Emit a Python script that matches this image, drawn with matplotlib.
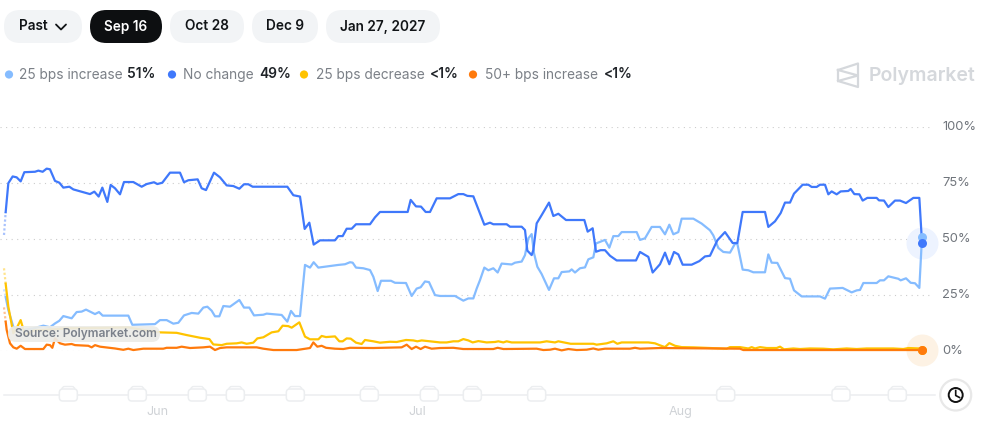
import matplotlib
matplotlib.use("Agg")
import matplotlib.pyplot as plt
from matplotlib.patches import FancyBboxPatch, Circle

plt.rcParams['font.family'] = ['Inter', 'DejaVu Sans']

# time step index (one step is roughly three hours); value = chance in %
NO_CHANGE = [(12,51.8),(17,62),(25,75),(38,78),(50,77.6),(62,75.8),(73,79.9),(105,80.1),(115,80.6),(128,80.1),(140,81.5),(150,81.2),
 (165,76),(178,75.2),(190,73),(208,73.4),(220,72.2),(270,70.1),(283,71.2),(296,69),(307,73),(322,66.6),(332,74.2),(345,72.7),
 (360,70),(372,75.5),(400,75.5),(425,73.4),(440,74.6),(462,75.4),(472,74.6),(487,75.2),(510,79.7),(540,79.7),(552,75.4),
 (565,76.3),(593,76.7),(605,72.7),(618,71.9),(642,79.7),(660,77.6),(680,74),(700,73.7),(718,72.5),(732,74.5),(745,74.5),
 (758,73.4),(862,73.4),(880,69.6),(900,69),(914,54.5),(928,57.3),(941,47.5),(960,49.4),(1005,49.4),(1015,51.3),(1028,51.3),
 (1040,54.6),(1055,54.6),(1068,56.6),(1110,56.6),(1125,59.7),(1140,62.1),(1223,62.1),(1232,67.5),(1248,64.6),(1263,64.5),
 (1277,62.1),(1290,62.1),(1310,68.2),(1350,68.2),(1375,70.1),(1390,70.1),(1402,69.3),(1420,69.1),(1453,56.4),(1470,57.3),
 (1480,56.6),(1520,56.6),(1530,55.5),(1565,55.5),(1575,54),(1582,44.8),(1595,42.8),(1600,45),(1610,57),(1625,60.7),(1647,66.3),
 (1660,60.3),(1675,61.3),(1698,58.5),(1753,58.5),(1763,53.3),(1778,54.8),(1788,44.3),(1802,45),(1815,45),(1830,42.5),(1850,40.4),
 (1908,40.4),(1920,44.2),(1945,42),(1958,35),(1980,38.7),(1995,43.9),(2008,38.7),(2022,44.2),(2035,43.1),(2048,38.5),(2075,38.5),
 (2098,40.1),(2115,42.2),(2130,42.5),(2152,49.4),(2175,53.1),(2198,48.2),(2212,48.2),(2228,62.1),(2295,62.1),(2305,55.4),
 (2325,57.9),(2342,61.6),(2355,66.3),(2370,66.3),(2382,70.3),(2408,74.3),(2425,74.3),(2435,73.3),(2450,73.3),(2460,74.3),
 (2475,74.3),(2485,70),(2495,71.3),(2510,70),(2522,71.3),(2545,71.5),(2552,72.4),(2563,70.1),(2578,70),(2588,67.2),(2602,68.4),
 (2630,68.4),(2637,67.3),(2652,67.2),(2665,64.3),(2685,67.2),(2700,67.2),(2718,66.1),(2740,68.4),(2758,68.4),(2766,48.4)]

INCREASE_25 = [(12,27.5),(17,24),(25,18.2),(40,10.7),(60,9),(100,10),(130,11.2),(150,10.5),(165,12.2),(178,13.4),(190,15.5),(215,14.5),
 (230,17.3),(245,17.5),(258,18.4),(285,16.4),(297,17.3),(308,15.7),(385,15.7),(397,11.6),(465,11.9),(480,13.7),(500,13.7),
 (520,12.1),(535,12.5),(552,15.8),(575,16.9),(595,16.6),(610,19.3),(622,19.7),(635,17.9),(645,15.4),(658,15.4),(670,20),
 (690,19.7),(718,22.7),(732,19.3),(748,19.3),(762,15.8),(790,16.1),(800,16.6),(845,16),(862,13),(873,17.8),(885,15.5),(900,15.5),
 (915,38.4),(930,37.2),(941,39.6),(955,37.2),(1015,38.4),(1035,38.7),(1050,39.6),(1058,39.4),(1068,37.2),(1090,36.9),(1110,36.1),
 (1120,33.1),(1133,26.7),(1143,31.3),(1173,31.3),(1185,30.4),(1218,30.3),(1235,24.5),(1250,27.8),(1262,28.4),(1275,31),(1287,30.7),
 (1305,24.9),(1320,24.5),(1365,24.5),(1390,22.4),(1405,23.4),(1420,23.4),(1430,27.8),(1440,31.6),(1453,37.2),(1465,36),(1480,36.9),
 (1493,35),(1505,39),(1535,38.6),(1545,39.4),(1565,39.9),(1575,42.8),(1585,50.3),(1595,52.2),(1602,43.6),(1612,37.6),(1625,34.3),
 (1647,27.2),(1662,32.4),(1675,32.4),(1685,35.2),(1708,35.5),(1715,36.4),(1725,35),(1740,36.9),(1755,37.3),(1765,40.9),(1780,41.8),
 (1788,48),(1815,49.6),(1828,46.1),(1840,51.3),(1855,51.3),(1865,53.1),(1910,53.1),(1920,49.6),(1935,50.3),(1955,55.4),(1980,55.4),
 (1995,52.1),(2008,56.4),(2020,52.1),(2035,53.1),(2045,59.1),(2080,59.1),(2105,56.9),(2130,53.9),(2140,51.6),(2155,46),(2170,44.2),
 (2190,43.9),(2205,47.9),(2212,47.9),(2228,36.3),(2245,36),(2260,35.1),(2295,35.1),(2305,43.1),(2315,39.4),(2332,39.3),(2355,32.5),
 (2370,32.2),(2382,27),(2405,24.3),(2460,24.3),(2475,23.3),(2490,27.8),(2528,28.1),(2555,26.1),(2570,27),(2580,27.2),(2590,30.3),
 (2630,30.3),(2640,31.5),(2652,31.5),(2665,33.3),(2695,32.2),(2702,31.5),(2718,32.4),(2732,30.4),(2745,30.2),(2758,28.1),(2766,50.9)]

DECREASE_25 = [(12,36.9),(17,30),(25,19.7),(40,7.8),(52,10.7),(62,13.7),(75,7),(100,9),(200,10),(385,10.4),(430,9.3),(480,8.2),(530,8),
 (560,7),(600,5.8),(628,5.2),(640,2.8),(665,2.5),(680,3.1),(710,3.3),(725,3.7),(740,3.1),(760,3.6),(772,5.5),(790,6),(815,8.2),
 (835,8.7),(848,11.2),(865,11),(875,10.3),(898,12.7),(915,6.3),(930,5.1),(955,5.1),(965,6.6),(978,6.1),(1005,6.4),(1018,4.2),
 (1028,4.2),(1040,5.5),(1052,5.4),(1068,3.6),(1085,3),(1095,4.8),(1120,4.2),(1140,3.6),(1170,4),(1190,3.9),(1218,4.8),(1240,4.6),
 (1252,4.2),(1265,4.6),(1290,4.2),(1320,3.7),(1340,3.7),(1360,4.2),(1375,4.2),(1390,5.2),(1405,4.6),(1418,3.7),(1435,4.3),(1460,3.7),
 (1485,3.9),(1495,4.2),(1510,3.7),(1520,4.2),(1535,3.7),(1620,3.7),(1640,4.2),(1665,3.7),(1675,4.2),(1712,3.1),(1780,3.1),(1790,2.7),
 (1820,3.3),(1840,4.2),(1852,3.1),(1865,3.7),(1945,3.7),(1965,3.3),(1980,2.4),(1995,1.6),(2008,3.4),(2025,2.2),(2045,1.6),(2080,1.5),
 (2180,0.9),(2190,1.6),(2220,1.6),(2245,1),(2255,1.6),(2265,1),(2280,1.6),(2300,1.2),(2330,1.2),(2340,1.8),(2352,0.6),(2380,1),
 (2400,0.75),(2430,1),(2470,0.9),(2500,0.6),(2540,1),(2570,0.75),(2600,1),(2680,1),(2710,0.75),(2725,1.2),(2758,1),(2766,0.4)]

INCREASE_50 = [(12,19.4),(17,13),(20,9.3),(30,3.3),(40,1.5),(50,0.9),(62,2.2),(75,0.75),(130,0.75),(140,2.7),(150,2.5),(157,1.3),(165,5.5),
 (180,3.3),(195,2.7),(215,3),(225,2.5),(265,2.2),(275,1.5),(285,2.5),(300,1.8),(345,1),(370,0.4),(385,0.9),(400,0.3),(430,0.9),
 (490,0.9),(500,1.3),(530,1.3),(545,1.8),(570,1.2),(610,1.5),(630,1.8),(645,0.3),(660,1.2),(680,1.5),(770,1.5),(790,0.9),(820,0.3),
 (890,0.3),(930,1.2),(940,3.7),(952,1.8),(965,2.2),(978,1.3),(1005,0.9),(1030,0.75),(1050,1.3),(1120,1.2),(1205,1.5),(1220,2.7),
 (1235,0.75),(1248,1.8),(1262,0.75),(1275,1.8),(1295,0.9),(1320,1.2),(1360,1.3),(1390,0.75),(1480,0.75),(1493,1.3),(1510,0.75),
 (1610,0.9),(1630,0.3),(1650,0.45),(1665,0.9),(1685,0.15),(1705,0.75),(1730,0.3),(1760,0.45),(1780,1),(1795,0.45),(1815,0.9),
 (1890,0.9),(1905,1.3),(1920,0.9),(1980,1.2),(2220,0.9),(2230,0.3),(2766,0.3)]

MONTH_TICKS = [471, 1251, 2043]
MONTH_LABELS = ["Jun", "Jul", "Aug"]
PCT_TICKS = [0, 25, 50, 75, 100]
EVENTS = [205, 412, 592, 706, 886, 1108, 1288, 1417, 1610, 2177, 2523, 2692]
LEGEND = [("25 bps increase", "51%"), ("No change", "49%"), ("25 bps decrease", "<1%"), ("50+ bps increase", "<1%")]
TABS = ["Past", "Sep 16", "Oct 28", "Dec 9", "Jan 27, 2027"]

C_LIGHT, C_DARK, C_YEL, C_ORG = "#85bcff", "#3f78fb", "#ffc300", "#ff7a0c"
GREY, INK = "#7b8087", "#1f2328"

W, H = 990, 430
fig = plt.figure(figsize=(W/100, H/100), dpi=100, facecolor="white")

# chrome layer in pixel coordinates
ui = fig.add_axes([0, 0, 1, 1], zorder=0)
ui.set_xlim(0, W); ui.set_ylim(H, 0); ui.axis("off")
top = fig.add_axes([0, 0, 1, 1], zorder=5)
top.set_xlim(0, W); top.set_ylim(H, 0); top.axis("off"); top.patch.set_alpha(0)

# chart axes
ax = fig.add_axes([0, (H-350.7)/H, 932/W, (350.7-127.3)/H], zorder=2)
ax.patch.set_alpha(0)
ax.set_xlim(0, 2796); ax.set_ylim(0, 100)
for s in ax.spines.values():
    s.set_visible(False)
ax.yaxis.tick_right()
ax.set_yticks(PCT_TICKS)
ax.set_yticklabels([f"{p}%" for p in PCT_TICKS], color="#70757c", fontsize=9.3, va="center")
ax.tick_params(axis="y", length=0, pad=7.5)
ax.set_xticks(MONTH_TICKS)
ax.set_xticklabels(MONTH_LABELS, color="#cfd2d6", fontsize=9)
ax.tick_params(axis="x", length=0, pad=39.5)
ax.grid(axis="y", color="#cccccc", lw=0.8, linestyle=(0, (1, 4)))
ax.set_axisbelow(True)

for data, col, z in [(INCREASE_25, C_LIGHT, 3), (NO_CHANGE, C_DARK, 4), (DECREASE_25, C_YEL, 5), (INCREASE_50, C_ORG, 6)]:
    t = [p[0] for p in data]
    v = [p[1] for p in data]
    ax.plot(t[1:], v[1:], color=col, lw=1.6, zorder=z, clip_on=False, solid_joinstyle="round")
    ax.plot(t[:2], v[:2], color=col, lw=1.6, alpha=0.45, ls=(0, (1, 1)), zorder=z, clip_on=False)

# halos and end points
ax.scatter([NO_CHANGE[-1][0]], [NO_CHANGE[-1][1]], s=530, color="#edf3ff", zorder=2, clip_on=False, linewidths=0)
ax.scatter([INCREASE_50[-1][0]], [INCREASE_50[-1][1]], s=530, color="#fdf2e4", zorder=2, clip_on=False, linewidths=0)
for data, col, z in [(INCREASE_25, C_LIGHT, 7), (NO_CHANGE, C_DARK, 8), (DECREASE_25, C_YEL, 8), (INCREASE_50, C_ORG, 9)]:
    ax.scatter([data[-1][0]], [data[-1][1]], s=42, color=col, zorder=z, clip_on=False, linewidths=0)

def pill(a, x0, x1, y0, y1, fc, ec="none", lw=0, rad=None, z=1):
    r = (y1-y0)/2 if rad is None else rad
    a.add_patch(FancyBboxPatch((x0+r, y0+r), x1-x0-2*r, y1-y0-2*r, boxstyle=f"round,pad={r},rounding_size={r}",
                               fc=fc, ec=ec, lw=lw, zorder=z))

# tabs
spans = [(4, 82), (90, 162), (170, 244), (252, 318), (326, 440)]
for i, (lab, (a, b)) in enumerate(zip(TABS, spans)):
    active = i == 1
    pill(ui, a, b, 10, 43, "#0d0f11" if active else "#f2f4f6")
    cx = 33 if i == 0 else (a+b)/2
    ui.text(cx, 26.5, lab, ha="center", va="center", fontsize=9.8, weight="semibold",
            color="white" if active else "#111417")
ui.plot([56, 61, 66], [24.5, 29.5, 24.5], color="#111417", lw=1.3, solid_capstyle="round")

# legend
lx = [(9, 19, 127), (172, 183, 259), (304, 316, 430), (473, 485, 604)]
for (lab, val), (dx, tx, vx), col in zip(LEGEND, lx, [C_LIGHT, C_DARK, C_YEL, C_ORG]):
    ui.add_patch(Circle((dx, 74.5), 4.1, fc=col, ec="none"))
    ui.text(tx, 74.5, lab, ha="left", va="center", fontsize=9.9, color=GREY)
    ui.text(vx, 74.5, val, ha="left", va="center", fontsize=9.9, color=INK, weight="semibold")

# logo
lc = "#d5d8dc"
ui.plot([838, 858, 858, 838, 838], [70, 63.5, 87, 81, 70], color=lc, lw=1.6)
ui.plot([838, 858, 838], [70, 75.5, 81], color=lc, lw=1.6)
ui.text(869, 76, "Polymarket", ha="left", va="center", fontsize=14, color=lc, weight="semibold")

# timeline with event chips
ui.plot([4, 935], [395.3, 395.3], color="#eceef0", lw=1.1)
for e in EVENTS:
    px = ax.transData.transform((e, 0))[0]
    pill(ui, px-6.5, px+6.5, 386.5, 394, "white", ec="#eceef0", lw=1, rad=3, z=2)
    pill(ui, px-9, px+9, 389, 401, "white", ec="#eceef0", lw=1.1, rad=3.5, z=3)

# clock button
ui.add_patch(Circle((955.7, 395), 15.5, fc="white", ec="#e8e8e8", lw=1.6, zorder=3))
ui.add_patch(Circle((955.7, 395), 7, fc="white", ec="#111111", lw=1.4, zorder=4))
ui.plot([955.7, 955.7, 959.5], [390.5, 395.5, 397.5], color="#111111", lw=1.2, zorder=5)

# source badge above the lines
pill(top, 8, 160, 326, 342, "#ecece8", z=1)
top.patches[-1].set_alpha(0.92)
top.text(15, 334, "Source: Polymarket.com", ha="left", va="center", fontsize=8.6, color="#7b818b", weight="semibold", zorder=2)

fig.savefig("out.png", dpi=100, facecolor="white")
